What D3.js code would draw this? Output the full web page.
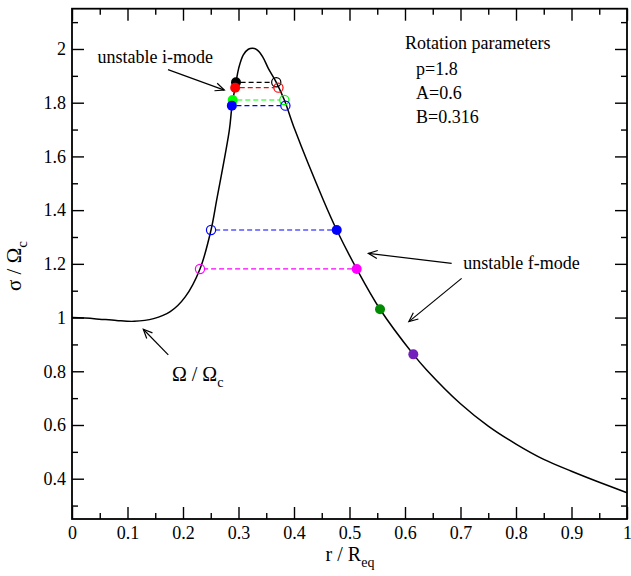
<!DOCTYPE html>
<html>
<head>
<meta charset="utf-8">
<script src="https://cdn.jsdelivr.net/npm/d3@7"></script>
<style>
body { margin: 0; background: #fff; }
text { font-family: "Liberation Serif", "Times New Roman", serif; fill: #000; }
</style>
</head>
<body>
<svg id="chart" width="631" height="576"></svg>
<script>
// rotation frequency profile  sigma / Omega_c  vs  r / R_eq
var curveR = [0, 0.04, 0.08, 0.112, 0.147, 0.177, 0.204, 0.2306, 0.2505, 0.2607, 0.2835, 0.2883, 0.2955,
    0.3003, 0.3087, 0.3177, 0.3256, 0.334, 0.3436, 0.3537, 0.3681, 0.3826, 0.4018, 0.4528, 0.477,
    0.513, 0.555, 0.615, 0.639, 0.70, 0.75, 0.80, 0.85, 0.90, 0.95, 1.0];
var curveSigma = [1.000, 0.996, 0.989, 0.986, 0.996, 1.022, 1.077, 1.181, 1.326, 1.438, 1.698, 1.789, 1.876,
    1.928, 1.978, 1.999, 2.003, 1.996, 1.971, 1.928, 1.876, 1.810, 1.698, 1.438, 1.326,
    1.181, 1.031, 0.863, 0.805, 0.679, 0.596, 0.529, 0.472, 0.428, 0.387, 0.348];

// corotation pairs: filled dot joined by a dashed line to an open circle
var pairColors = ['#000000', '#ff0000', '#00ff00', '#0000ff', '#0000ff', '#ff00ff'];
var pairSigma = [1.876, 1.856, 1.810, 1.789, 1.326, 1.181];
var pairFilledR = [0.2955, 0.294, 0.2895, 0.288, 0.477, 0.513];
var pairOpenR = [0.368, 0.372, 0.3826, 0.3845, 0.2505, 0.2306];

// single modes
var singleColors = ['#008b00', '#7221bc'];
var singleR = [0.555, 0.615];
var singleSigma = [1.031, 0.863];

var xTicks = [0, 0.1, 0.2, 0.3, 0.4, 0.5, 0.6, 0.7, 0.8, 0.9, 1];
var xMinor = [0.05, 0.15, 0.25, 0.35, 0.45, 0.55, 0.65, 0.75, 0.85, 0.95];
var yTicks = [0.4, 0.6, 0.8, 1, 1.2, 1.4, 1.6, 1.8, 2];
var yMinor = [0.3, 0.5, 0.7, 0.9, 1.1, 1.3, 1.5, 1.7, 1.9, 2.1];

var paramTitle = 'Rotation parameters';
var paramLines = ['p=1.8', 'A=0.6', 'B=0.316'];

var svg = d3.select('#chart');
var x = d3.scaleLinear().domain([0, 1]).range([72, 627]);
var y = d3.scaleLinear().domain([0.25, 2.15]).range([519, 8.7]);
var fmt = d3.format('~g');

// axes, ticks pointing inwards on all four sides
function styleAxis(g) {
    g.select('.domain').remove();
    g.selectAll('line').attr('stroke', '#000').attr('stroke-width', 1.4);
    g.selectAll('text').attr('font-size', 18).attr('font-family', '"Liberation Serif", serif');
}
var x0 = y.range()[0], x1 = y.range()[1];
svg.append('g').attr('transform', 'translate(0,' + x0 + ')')
    .call(d3.axisBottom(x).tickValues(xTicks).tickSize(-12).tickPadding(7).tickFormat(fmt)).call(styleAxis);
svg.append('g').attr('transform', 'translate(0,' + x0 + ')')
    .call(d3.axisBottom(x).tickValues(xMinor).tickSize(-6).tickFormat('')).call(styleAxis);
svg.append('g').attr('transform', 'translate(0,' + x1 + ')')
    .call(d3.axisTop(x).tickValues(xTicks).tickSize(-12).tickFormat('')).call(styleAxis);
svg.append('g').attr('transform', 'translate(0,' + x1 + ')')
    .call(d3.axisTop(x).tickValues(xMinor).tickSize(-6).tickFormat('')).call(styleAxis);
svg.append('g').attr('transform', 'translate(' + x.range()[0] + ',0)')
    .call(d3.axisLeft(y).tickValues(yTicks).tickSize(-12).tickPadding(6).tickFormat(fmt)).call(styleAxis);
svg.append('g').attr('transform', 'translate(' + x.range()[0] + ',0)')
    .call(d3.axisLeft(y).tickValues(yMinor).tickSize(-6).tickFormat('')).call(styleAxis);
svg.append('g').attr('transform', 'translate(' + x.range()[1] + ',0)')
    .call(d3.axisRight(y).tickValues(yTicks).tickSize(-12).tickFormat('')).call(styleAxis);
svg.append('g').attr('transform', 'translate(' + x.range()[1] + ',0)')
    .call(d3.axisRight(y).tickValues(yMinor).tickSize(-6).tickFormat('')).call(styleAxis);

// frame
svg.append('rect').attr('x', x.range()[0]).attr('y', y.range()[1])
    .attr('width', x.range()[1] - x.range()[0]).attr('height', y.range()[0] - y.range()[1])
    .attr('fill', 'none').attr('stroke', '#000').attr('stroke-width', 1.8);

// axis titles
var xt = svg.append('text').attr('x', 350).attr('y', 561).attr('text-anchor', 'middle').attr('font-size', 20);
xt.append('tspan').text('r / R');
xt.append('tspan').attr('dy', 6).attr('font-size', 14).text('eq');

var yt = svg.append('text').attr('transform', 'translate(21,266) rotate(-90)').attr('text-anchor', 'middle').attr('font-size', 21);
yt.append('tspan').text('σ / Ω');
yt.append('tspan').attr('dy', 6).attr('font-size', 15).text('c');

// the profile
var line = d3.line().x(function (d) { return x(d[0]); }).y(function (d) { return y(d[1]); }).curve(d3.curveCatmullRom);
svg.append('path').datum(d3.zip(curveR, curveSigma)).attr('d', line)
    .attr('fill', 'none').attr('stroke', '#000').attr('stroke-width', 1.5);

var dotR = 4.6;
var pairs = d3.range(pairSigma.length).map(function (i) {
    return { c: pairColors[i], s: pairSigma[i], f: pairFilledR[i], o: pairOpenR[i] };
});

// dashed connectors
svg.append('g').selectAll('line').data(pairs).join('line')
    .attr('x1', function (d) { return x(d.f) + (d.o > d.f ? dotR : -dotR); })
    .attr('x2', function (d) { return x(d.o) + (d.o > d.f ? -dotR : dotR); })
    .attr('y1', function (d) { return y(d.s); })
    .attr('y2', function (d) { return y(d.s); })
    .attr('stroke', function (d) { return d.c; })
    .attr('stroke-width', 1.2).attr('stroke-dasharray', '5,3');

svg.append('g').selectAll('circle').data(pairs).join('circle')
    .attr('cx', function (d) { return x(d.o); }).attr('cy', function (d) { return y(d.s); })
    .attr('r', dotR).attr('fill', 'none').attr('stroke', function (d) { return d.c; }).attr('stroke-width', 1.2);

svg.append('g').selectAll('circle').data(pairs).join('circle')
    .attr('cx', function (d) { return x(d.f); }).attr('cy', function (d) { return y(d.s); })
    .attr('r', dotR + 0.4).attr('fill', function (d) { return d.c; });

svg.append('g').selectAll('circle').data(d3.range(singleR.length)).join('circle')
    .attr('cx', function (i) { return x(singleR[i]); }).attr('cy', function (i) { return y(singleSigma[i]); })
    .attr('r', dotR + 0.4).attr('fill', function (i) { return singleColors[i]; });

// annotations
svg.append('defs').append('marker').attr('id', 'head').attr('viewBox', '-10 -6 12 12')
    .attr('markerWidth', 12).attr('markerHeight', 12).attr('markerUnits', 'userSpaceOnUse')
    .attr('orient', 'auto').attr('refX', 0).attr('refY', 0)
    .append('path').attr('d', 'M-9,-4 L0,0 L-9,4').attr('fill', 'none').attr('stroke', '#000').attr('stroke-width', 1.2);

function arrow(r1, s1, r2, s2) {
    svg.append('line').attr('x1', x(r1)).attr('y1', y(s1)).attr('x2', x(r2)).attr('y2', y(s2))
        .attr('stroke', '#000').attr('stroke-width', 1.2).attr('marker-end', 'url(#head)');
}

svg.append('text').attr('x', x(0.046)).attr('y', y(1.948)).attr('font-size', 18).text('unstable i-mode');
arrow(0.173, 1.923, 0.2744, 1.847);

svg.append('text').attr('x', x(0.705)).attr('y', y(1.181)).attr('font-size', 18).text('unstable f-mode');
arrow(0.684, 1.202, 0.534, 1.239);
arrow(0.702, 1.146, 0.607, 0.985);

var om = svg.append('text').attr('x', x(0.18)).attr('y', y(0.762)).attr('font-size', 20);
om.append('tspan').text('Ω / Ω');
om.append('tspan').attr('dy', 6).attr('font-size', 14).text('c');
arrow(0.1735, 0.861, 0.1285, 0.9566);

svg.append('text').attr('x', x(0.6)).attr('y', y(2.0)).attr('font-size', 18).text(paramTitle);
svg.append('g').selectAll('text').data(paramLines).join('text')
    .attr('x', x(0.62)).attr('y', function (d, i) { return y(1.903) + i * 24; })
    .attr('font-size', 18).text(function (d) { return d; });
</script>
</body>
</html>
